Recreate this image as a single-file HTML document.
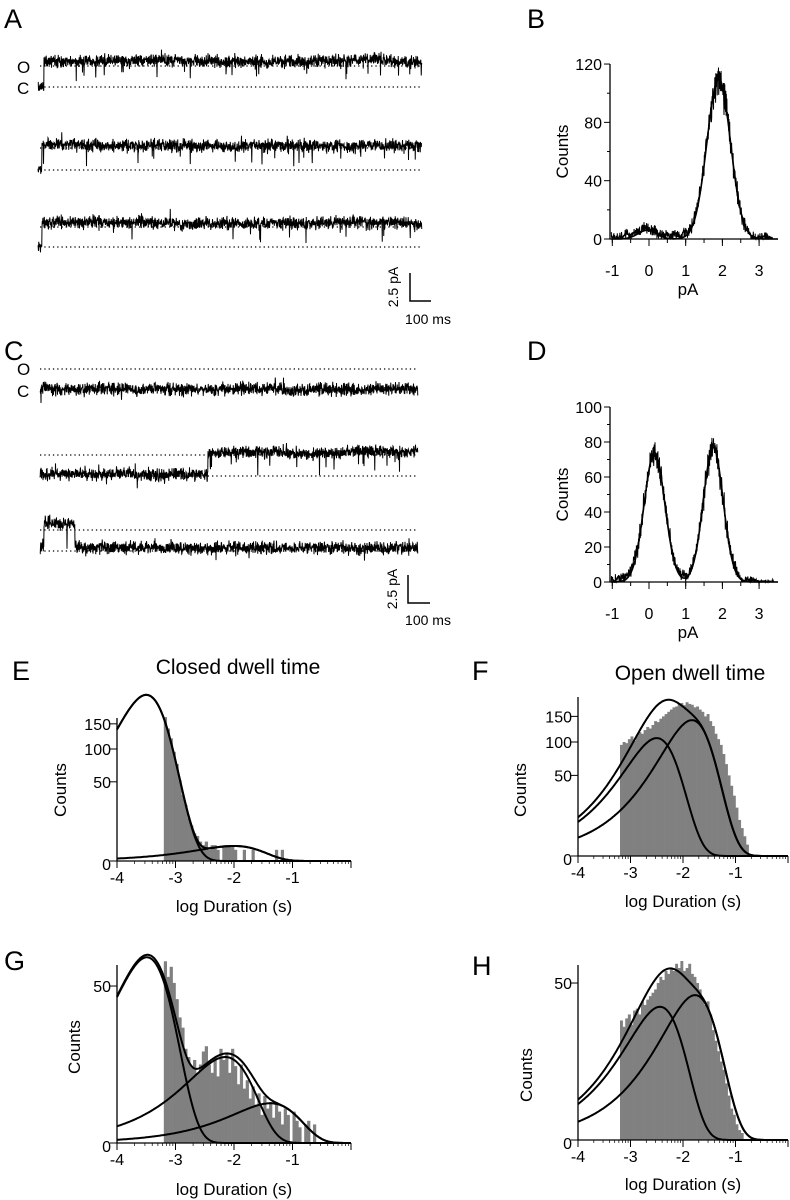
<!DOCTYPE html>
<html><head><meta charset="utf-8"><style>
html,body{margin:0;padding:0;background:#fff}
svg{display:block;font-family:"Liberation Sans",Arial,sans-serif}
</style></head><body>
<svg id="fig" width="790" height="1200" viewBox="0 0 790 1200" xmlns="http://www.w3.org/2000/svg">
<g font-size="27" fill="#000">
<text x="4" y="28">A</text>
<text x="527" y="28">B</text>
<text x="4" y="360">C</text>
<text x="527" y="360">D</text>
<text x="12" y="680">E</text>
<text x="472" y="680">F</text>
<text x="4" y="970">G</text>
<text x="472" y="975">H</text>
</g>
<g font-size="21">
<text x="238" y="674" text-anchor="middle">Closed dwell time</text>
<text x="690" y="680" text-anchor="middle">Open dwell time</text>
</g>
<g font-size="17">
<text x="17" y="73">O</text>
<text x="17" y="94">C</text>
<text x="17" y="375">O</text>
<text x="17" y="397">C</text>
</g>
<g id="traces"></g>
<g stroke="#000" stroke-width="1.5" fill="none">
<path d="M410 273 V301 H431"/></g>
<text x="398" y="287" font-size="14" text-anchor="middle" transform="rotate(-90 398 287)">2.5 pA</text>
<text x="428" y="324" font-size="14" text-anchor="middle">100 ms</text>
<g stroke="#000" stroke-width="1.5" fill="none">
<path d="M408 575 V603 H430"/></g>
<text x="397" y="589" font-size="14" text-anchor="middle" transform="rotate(-90 397 589)">2.5 pA</text>
<text x="428" y="625" font-size="14" text-anchor="middle">100 ms</text>
<g id="charts"></g>
</svg>
<script>
// ---- amplitude histogram data (counts per 0.1 pA bin from -1.2 to 3.4) ----
const ampBins = [-1.2,-1.1,-1.0,-0.9,-0.8,-0.7,-0.6,-0.5,-0.4,-0.3,-0.2,-0.1,0.0,0.1,0.2,0.3,0.4,0.5,0.6,0.7,0.8,0.9,1.0,1.1,1.2,1.3,1.4,1.5,1.6,1.7,1.8,1.9,2.0,2.1,2.2,2.3,2.4,2.5,2.6,2.7,2.8,2.9,3.0,3.1,3.2,3.3,3.4];
const countsB = [1,1,2,1,2,2,3,3,4,5,7,8,7,6,5,4,3,3,2,3,3,3,4,6,10,19,33,50,71,90,105,110,105,90,71,50,33,19,10,5,2,1,1,1,1,0,0];
const countsD = [1,1,1,2,2,3,4,6,12,21,34,50,64,73,73,64,50,34,21,11,6,3,3,5,11,20,34,50,66,76,76,66,50,34,20,10,5,2,1,1,1,1,0,0,0,0,0];
const fitB = [[-0.05,6,0.25],[1.9,110,0.32]];   // [center, height, sd]
const fitD = [[0.15,74,0.28],[1.75,77,0.27]];
const ampXTicks = [-1,0,1,2,3];
const bYTicks = [0,40,80,120];
const dYTicks = [0,20,40,60,80,100];

// ---- dwell-time histograms (bin width 0.05 log units, square-root count axes) ----
const binW = 0.05;
const eStart = -3.2;
const eCounts = [165,140,120,95,75,52,35,25,15,10,6,5,3,2,3,1,2,2,1,0,2,2,2,2,1,0,0,1,0,0,1,0,0,0,0,0,0,0,1,0,1,0,0,0];
const eComps = [[-3.5,220],[-2.0,1.8]];   // [log tau, peak height]
const fStart = -3.2;
const fCounts = [95,100,98,105,110,102,112,118,115,122,128,125,132,140,138,145,150,155,160,165,170,172,178,180,175,182,178,176,170,172,165,160,150,155,140,130,115,105,95,80,65,50,38,28,18,10,6,3,1,0];
const fComps = [[-2.5,107],[-1.83,142]];
const gStart = -3.2;
const gCounts = [67,56,63,52,42,32,27,18,15,12,14,10,12.5,17,19,12.5,10,15,9,18,14,16,10,18,12,7,12.5,6,8,4,6.5,3,5,1.6,4.5,2.4,3.4,1.3,3,2,0.7,2.4,1.6,0,2,1,0.5,0,0.7,1,0,0.7];
const gComps = [[-3.49,70],[-2.15,15],[-1.38,3.2]];
const hStart = -3.2;
const hCounts = [29,26,30,32,27,34,35,32,39,37,40,42,44,46,50,54,52,58,56,60,58,63,60,65,58,60,63,56,54,50,46,40,37,39,32,24.5,20,16,12.5,10,6.5,4,2,1.3,0.5,0.2,0.1,0,0,0];
const hComps = [[-2.44,36],[-1.77,42.6]];
const logXTicks = [-4,-3,-2,-1];
const eYTicks = [0,50,100,150];
const gYTicks = [0,50];

const NS = "http://www.w3.org/2000/svg";
const charts = document.getElementById('charts');
function mk(tag, attrs, parent){ const e=document.createElementNS(NS,tag); for(const k in attrs) e.setAttribute(k,attrs[k]); (parent||charts).appendChild(e); return e; }
function txt(x,y,s,size,anchor,rot){ const t=mk('text',{x:x,y:y,'font-size':size,'text-anchor':anchor||'middle'}); if(rot) t.setAttribute('transform','rotate(-90 '+x+' '+y+')'); t.textContent=s; return t; }

// seeded noise for trace texture
let seed = 12345;
function rnd(){ seed = (seed*1664525+1013904223)>>>0; return seed/4294967296; }
function gn(){ return (rnd()+rnd()+rnd()-1.5); }

// ---- amplitude histograms ----
function ampPanel(name, counts, fit, yTicks, y0, ky, yTop){
  const g = mk('g',{});
  
  
  const X = v => 649 + v*36.7;
  const Y = c => y0 - c*ky;
  mk('path',{d:'M610 '+yTop+' V'+y0+' H778',stroke:'#000','stroke-width':1.3,fill:'none'},g);
  for (const t of yTicks){ mk('line',{x1:604,x2:610,y1:Y(t),y2:Y(t),stroke:'#000'},g); const l=txt(602,Y(t)+6,String(t),16,'end');   g.appendChild(l);}
  for (let i=0;i<yTicks.length-1;i++){ const m=(yTicks[i]+yTicks[i+1])/2; mk('line',{x1:607,x2:610,y1:Y(m),y2:Y(m),stroke:'#000'},g); }
  for (const t of ampXTicks){ mk('line',{x1:X(t),x2:X(t),y1:y0,y2:y0+7,stroke:'#000'},g); const l=txt(X(t),y0+37,String(t),16);   g.appendChild(l);}
  for (let t=-1;t<=3;t+=0.5){ mk('line',{x1:X(t),x2:X(t),y1:y0,y2:y0+4,stroke:'#000'},g); }
  const yl = txt(568,(yTop+y0)/2,'Counts',17,'middle',true);
    g.appendChild(yl);
  const xl = txt(688,y0+56,'pA',17);
    g.appendChild(xl);
  let pts=[];
  for (let i=0;i<counts.length-1;i++){
    for (let s=0;s<14;s++){
      const f=s/14; const v=ampBins[i]+0.1*f; const c=counts[i]*(1-f)+counts[i+1]*f;
      const x=X(v); if (x<611||x>778) continue;
      const amp = 3 + Math.sqrt(c)*1.4;
      pts.push(x.toFixed(1)+','+Math.min(y0, Y(c)+gn()*amp).toFixed(1));
    }
  }
  const dl = mk('polyline',{points:pts.join(' '),fill:'none',stroke:'#000','stroke-width':1},g);
   
  let fp=[];
  for (let x=611;x<=778;x+=1){ const v=(x-649)/36.7; let c=0; for(const f of fit) c+=f[1]*Math.exp(-0.5*Math.pow((v-f[0])/f[2],2)); fp.push(x+','+Y(c).toFixed(1)); }
  const fl = mk('polyline',{points:fp.join(' '),fill:'none',stroke:'#000','stroke-width':1.6},g);
   
}
ampPanel('amplitude-histogram-b', countsB, fitB, bYTicks, 239, 1.458, 64);
ampPanel('amplitude-histogram-d', countsD, fitD, dYTicks, 582, 1.75, 407);

// ---- dwell histograms ----
function logpdf(x,c,h){ const u=Math.LN10*(x-c); return h*Math.exp(u-Math.exp(u)+1); }
function dwellPanel(name, cfg){
  const g = mk('g',{});
  
  
  const X = v => cfg.xa + (v+4)*(cfg.xb-cfg.xa)/4;
  const Y = c => cfg.y0 - Math.sqrt(Math.max(c,0))*cfg.k;
  cfg.counts.forEach((c,i)=>{
    if (c<=0) return;
    const v = cfg.start + i*binW;
    const r = mk('rect',{x:X(v).toFixed(2),y:Y(c).toFixed(2),width:((cfg.xb-cfg.xa)/4*binW+0.3).toFixed(2),height:(cfg.y0-Y(c)).toFixed(2),fill:'#808080'},g);
    
    
  });
  mk('path',{d:'M'+cfg.xa+' '+cfg.yTop+' V'+cfg.y0+' H'+cfg.xb,stroke:'#000','stroke-width':1.3,fill:'none'},g);
  mk('line',{x1:cfg.xb,x2:cfg.xb,y1:cfg.y0,y2:cfg.y0+7,stroke:'#000'},g);
  for (const t of logXTicks){ mk('line',{x1:X(t),x2:X(t),y1:cfg.y0,y2:cfg.y0+7,stroke:'#000'},g); const l=txt(X(t),cfg.y0+22,String(t),16);   g.appendChild(l);}
  for (let t=-4;t<0;t+=1) for (let m=2;m<10;m+=1){ const xv=X(t+Math.log10(m)); mk('line',{x1:xv,x2:xv,y1:cfg.y0,y2:cfg.y0+3,stroke:'#000','stroke-width':0.7},g); }
  for (const t of cfg.yTicks){ mk('line',{x1:cfg.xa-7,x2:cfg.xa,y1:Y(t),y2:Y(t),stroke:'#000'},g); const l=txt(cfg.xa-6,Y(t)+(t===0?9:6),String(t),16,'end');   g.appendChild(l);}
  const yl = txt(cfg.ylx,cfg.yly,'Counts',17,'middle',true);
    g.appendChild(yl);
  const xl = txt((cfg.xa+cfg.xb)/2,cfg.xly,'log Duration (s)',17);
    g.appendChild(xl);
  const curves = cfg.comps.map(c=>[c]);
  curves.push(cfg.comps);
  curves.forEach((set,ci)=>{
    let p=[];
    for (let x=cfg.xa;x<=cfg.xb;x+=1){ const v=(x-cfg.xa)/(cfg.xb-cfg.xa)*4-4; let c=0; for(const s of set) c+=logpdf(v,s[0],s[1]); p.push(x+','+Y(c).toFixed(1)); }
    const pl = mk('polyline',{points:p.join(' '),fill:'none',stroke:'#000','stroke-width':2},g);
    
    
  });
}
dwellPanel('closed-dwell-histogram-e',{xa:117,xb:351,y0:861,k:11.2,yTop:718,counts:eCounts,start:eStart,comps:eComps,yTicks:eYTicks,ylx:66,yly:790,xly:912});
dwellPanel('open-dwell-histogram-f',{xa:578,xb:788,y0:856,k:11.4,yTop:697,counts:fCounts,start:fStart,comps:fComps,yTicks:eYTicks,ylx:526,yly:790,xly:907});
dwellPanel('closed-dwell-histogram-g',{xa:117,xb:351,y0:1143,k:22.2,yTop:965,counts:gCounts,start:gStart,comps:gComps,yTicks:gYTicks,ylx:80,yly:1047,xly:1195});
dwellPanel('open-dwell-histogram-h',{xa:578,xb:788,y0:1140,k:22.2,yTop:965,counts:hCounts,start:hStart,comps:hComps,yTicks:gYTicks,ylx:532,yly:1075,xly:1190});

// ---- single channel traces ----
const tr = document.getElementById('traces');
const rows = [
  {o:66,c:87,ob:61,cb:87,segs:[[38,44,'c'],[44,422,'o']]},
  {o:148,c:170,ob:146,cb:170,segs:[[38,42,'c'],[42,422,'o']]},
  {o:227,c:247,ob:223,cb:247,segs:[[38,42,'c'],[42,422,'o']]},
  {o:369,c:390,ob:369,cb:389,segs:[[40,418,'c']]},
  {o:455,c:476,ob:452,cb:474,segs:[[40,208,'c'],[208,418,'o']]},
  {o:530,c:551,ob:523,cb:548,segs:[[40,44,'c'],[44,75,'o'],[75,418,'c']]}
];
rows.forEach((r,ri)=>{
  const right = ri<3?422:418;
  const dots = mk('g',{},tr);
  
  
  mk('line',{x1:40,x2:right,y1:r.o,y2:r.o,stroke:'#000','stroke-width':1.3,'stroke-dasharray':'1.3 3'},dots);
  mk('line',{x1:40,x2:right,y1:r.c,y2:r.c,stroke:'#000','stroke-width':1.3,'stroke-dasharray':'1.3 3'},dots);
  let pts=[];
  let drift=0;
  for (const s of r.segs){
    const base = s[2]==='o' ? r.ob : r.cb;
    for (let x=s[0]; x<s[1]; x+=0.25){
      drift = drift*0.98 + gn()*0.3;
      let y = base + drift + gn()*6;
      const p=rnd();
      if (s[2]==='o' && p<0.02) y += 6+rnd()*14;
      if (s[2]==='o' && p>0.995) y -= 4+rnd()*5;
      if (s[2]==='c' && p<0.01) y -= 3+rnd()*8;
      if (s[2]==='c' && p>0.995) y += 4+rnd()*7;
      pts.push(x.toFixed(2)+','+y.toFixed(1));
    }
  }
  const pl = mk('polyline',{points:pts.join(' '),fill:'none',stroke:'#000','stroke-width':1},tr);
  
  
});
</script>
</body></html>
